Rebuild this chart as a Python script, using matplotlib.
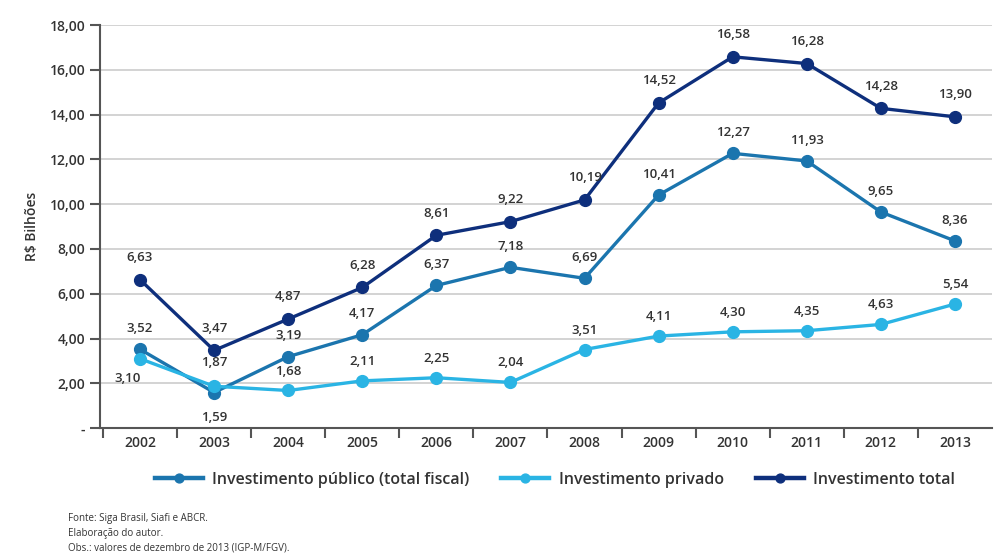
import matplotlib.pyplot as plt
import numpy as np

plt.rcParams['font.family'] = ['Open Sans', 'DejaVu Sans']

years = ['2002', '2003', '2004', '2005', '2006', '2007', '2008', '2009', '2010', '2011', '2012', '2013']
publico = [3.52, 1.59, 3.19, 4.17, 6.37, 7.18, 6.69, 10.41, 12.27, 11.93, 9.65, 8.36]
privado = [3.10, 1.87, 1.68, 2.11, 2.25, 2.04, 3.51, 4.11, 4.30, 4.35, 4.63, 5.54]
total = [6.63, 3.47, 4.87, 6.28, 8.61, 9.22, 10.19, 14.52, 16.58, 16.28, 14.28, 13.90]
yticks = [0, 2, 4, 6, 8, 10, 12, 14, 16, 18]

c_pub = '#1b75ae'
c_priv = '#2ab4e4'
c_tot = '#0e2f7c'

fig = plt.figure(figsize=(10, 5.56), dpi=100)
ax = fig.add_axes([0.1, 0.23, 0.892, 0.725])

x = np.arange(len(years))
lw = 2.4
ms = 8.5
l1, = ax.plot(x, publico, '-o', color=c_pub, lw=lw, ms=ms, label='Investimento público (total fiscal)', zorder=3)
l2, = ax.plot(x, privado, '-o', color=c_priv, lw=lw, ms=ms, label='Investimento privado', zorder=4)
l3, = ax.plot(x, total, '-o', color=c_tot, lw=lw, ms=ms, label='Investimento total', zorder=3)

def fmt(v):
    return ('%.2f' % v).replace('.', ',')

lab_kw = dict(ha='center', va='center', fontsize=9.5, color='#333333', fontweight='semibold')
for i, v in enumerate(total):
    ax.annotate(fmt(v), (x[i], v), xytext=(0, 16), textcoords='offset points', **lab_kw)
for i, v in enumerate(publico):
    dy = -18 if i == 1 else 15
    ax.annotate(fmt(v), (x[i], v), xytext=(0, dy), textcoords='offset points', **lab_kw)
for i, v in enumerate(privado):
    if i == 0:
        ax.annotate(fmt(v), (x[i], v), xytext=(-9, -14), textcoords='offset points', **lab_kw)
    else:
        dy = 17 if i == 1 else 14
        ax.annotate(fmt(v), (x[i], v), xytext=(0, dy), textcoords='offset points', **lab_kw)

ax.set_xlim(-0.54, 11.5)
ax.set_ylim(0, 18)
ax.set_yticks(yticks)
ax.set_yticklabels(['-'] + [fmt(t) for t in yticks[1:]], fontsize=10, fontweight='semibold', color='#333333')
ax.yaxis.grid(True, color='#cccccc', lw=1.2)
ax.set_axisbelow(True)

ax.set_xticks(x)
ax.set_xticklabels(years, fontsize=10, fontweight='semibold', color='#333333')
ax.tick_params(axis='x', length=0, pad=6)
ax.set_xticks(np.arange(-0.5, 11.5, 1), minor=True)
ax.tick_params(axis='x', which='minor', length=7, width=1.5, color='#555555', direction='out')
ax.tick_params(axis='y', length=7, width=1.5, color='#555555', direction='out')

for s in ['top', 'right']:
    ax.spines[s].set_visible(False)
for s in ['left', 'bottom']:
    ax.spines[s].set_color('#555555')
    ax.spines[s].set_linewidth(1.5)

ax.set_ylabel('R$ Bilhões', fontsize=10, fontweight='semibold', color='#333333', labelpad=8)

leg = fig.legend(handles=[l1, l2, l3], loc='center', bbox_to_anchor=(0.555, 0.137), ncol=3,
                 frameon=False, handlelength=3.0, handletextpad=0.6, columnspacing=2.0,
                 markerscale=0.75, prop={'size': 11.5, 'weight': 'semibold'}, labelcolor='#333333')
for h in leg.legend_handles:
    h.set_linewidth(3.2)

foot = 'Fonte: Siga Brasil, Siafi e ABCR.\nElaboração do autor.\nObs.: valores de dezembro de 2013 (IGP-M/FGV).'
fig.text(0.068, 0.077, foot, fontsize=7, color='#333333', va='top', linespacing=1.45)

fig.savefig('out.png', dpi=100)
